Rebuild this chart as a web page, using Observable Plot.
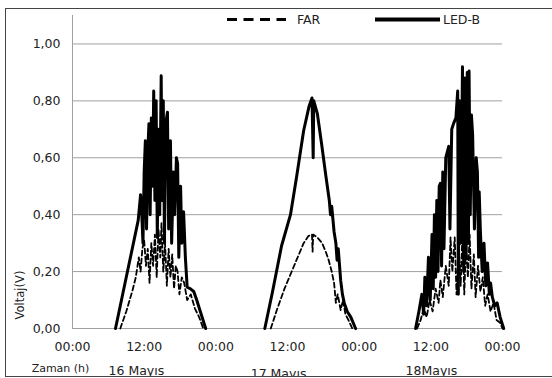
<!DOCTYPE html>
<html>
<head>
<meta charset="utf-8">
<script src="https://cdn.jsdelivr.net/npm/d3@7"></script>
<script src="https://cdn.jsdelivr.net/npm/@observablehq/plot@0.6"></script>
<style>
  body { margin: 0; background: #fff; font-family: "DejaVu Sans", sans-serif; }
  #wrap { position: relative; width: 552px; height: 378px; overflow: hidden; }
  #clip { position: absolute; left: 0; top: 0; width: 552px; height: 376px; overflow: hidden; }
  #frame { position: absolute; left: 5px; top: 8px; width: 600px; height: 367px;
           border-left: 1.5px solid #444; border-top: 1.5px solid #444; border-bottom: 1.5px solid #444; }
  #chart { position: absolute; left: 0; top: 0; }
  #legend { position: absolute; left: 0; top: 0; }
  #ytitle { position: absolute; left: 20px; top: 295px; font-size: 11.5px; color: #222;
            transform: translate(-50%, -50%) rotate(-90deg); white-space: nowrap; }
</style>
</head>
<body>
<div id="wrap">
  <div id="clip">
    <div id="chart"></div>
  </div>
  <div id="frame"></div>
  <svg id="legend" width="552" height="40">
    <line x1="227" x2="286" y1="19.5" y2="19.5" stroke="#000" stroke-width="3" stroke-dasharray="10,6.5"/>
    <text x="297" y="24" font-size="12.5" fill="#222" font-family="DejaVu Sans">FAR</text>
    <line x1="375" x2="440" y1="19.5" y2="19.5" stroke="#000" stroke-width="4"/>
    <text x="443" y="24" font-size="12.5" fill="#222" font-family="DejaVu Sans">LED-B</text>
  </svg>
  <div id="ytitle">Voltaj(V)</div>
</div>
<script>
// ---- data (hours since 16 May 00:00, volts) ----
const led16 = [[7.2,0],[8.0,0.08],[9.0,0.18],[10.0,0.28],[11.0,0.38],[11.4,0.47],[11.6,0.40],[11.8,0.30],[12.0,0.55],[12.2,0.66],[12.4,0.35],[12.6,0.62],[12.8,0.72],[13.0,0.40],[13.2,0.74],[13.4,0.50],[13.6,0.835],[13.8,0.45],[14.0,0.80],[14.2,0.32],[14.4,0.70],[14.6,0.40],[14.85,0.888],[15.0,0.45],[15.2,0.80],[15.4,0.30],[15.6,0.72],[15.9,0.76],[16.1,0.35],[16.4,0.66],[16.6,0.30],[16.9,0.55],[17.1,0.40],[17.4,0.60],[17.6,0.58],[17.8,0.25],[18.1,0.50],[18.3,0.30],[18.6,0.41],[18.9,0.25],[19.2,0.145],[19.7,0.14],[20.3,0.13],[20.8,0.10],[21.4,0.06],[22.3,0]];
const far16 = [[8.0,0],[9.0,0.06],[10.0,0.13],[10.6,0.18],[11.1,0.25],[11.4,0.20],[11.7,0.28],[12.0,0.31],[12.3,0.22],[12.6,0.28],[12.9,0.16],[13.2,0.30],[13.5,0.22],[13.8,0.33],[14.1,0.18],[14.4,0.35],[14.7,0.25],[14.9,0.37],[15.2,0.20],[15.5,0.30],[15.8,0.15],[16.1,0.28],[16.4,0.18],[16.7,0.26],[17.0,0.14],[17.3,0.22],[17.6,0.20],[17.9,0.12],[18.3,0.18],[18.7,0.16],[19.2,0.10],[19.8,0.12],[20.5,0.07],[21.2,0.04],[21.9,0]];
const led17 = [[32.2,0],[33.5,0.13],[35.0,0.29],[36.5,0.40],[37.5,0.53],[38.7,0.695],[39.6,0.78],[40.1,0.81],[40.3,0.60],[40.4,0.80],[41.0,0.755],[41.7,0.65],[42.4,0.54],[43.0,0.45],[43.2,0.40],[43.4,0.43],[43.8,0.34],[44.1,0.30],[44.3,0.24],[44.5,0.28],[44.9,0.17],[45.2,0.12],[45.5,0.09],[46.0,0.06],[46.6,0.04],[47.4,0]];
const far17 = [[33.2,0],[34.3,0.07],[35.5,0.14],[36.5,0.19],[37.5,0.24],[38.7,0.30],[39.5,0.325],[40.1,0.33],[40.2,0.27],[40.3,0.33],[41.0,0.32],[41.8,0.30],[42.4,0.27],[42.9,0.24],[43.4,0.20],[43.8,0.16],[44.1,0.09],[44.4,0.12],[44.9,0.065],[45.3,0.10],[45.7,0.05],[46.2,0.03],[46.85,0]];
const led18 = [[57.45,0],[58.0,0.06],[58.5,0.12],[58.8,0.05],[59.0,0.18],[59.3,0.08],[59.6,0.25],[59.9,0.10],[60.2,0.33],[60.4,0.14],[60.6,0.40],[60.8,0.18],[61.0,0.45],[61.2,0.20],[61.4,0.50],[61.6,0.51],[61.8,0.22],[62.0,0.55],[62.2,0.28],[62.5,0.60],[62.75,0.62],[63.0,0.64],[63.2,0.35],[63.5,0.70],[63.8,0.72],[64.2,0.74],[64.5,0.835],[64.6,0.12],[64.8,0.80],[65.0,0.30],[65.3,0.92],[65.5,0.20],[65.7,0.88],[65.9,0.25],[66.1,0.90],[66.3,0.30],[66.4,0.905],[66.6,0.40],[66.8,0.75],[67.0,0.68],[67.3,0.35],[67.6,0.60],[67.8,0.55],[68.0,0.25],[68.1,0.48],[68.3,0.34],[68.6,0.20],[68.9,0.30],[69.2,0.15],[69.5,0.23],[69.8,0.12],[70.0,0.16],[70.3,0.11],[70.7,0.08],[71.1,0.09],[71.6,0.04],[72.2,0]];
const far18 = [[57.7,0],[58.3,0.03],[58.8,0.07],[59.3,0.04],[59.8,0.10],[60.3,0.06],[60.8,0.14],[61.3,0.09],[61.6,0.17],[62.0,0.11],[62.5,0.22],[63.0,0.15],[63.3,0.32],[63.6,0.20],[64.0,0.32],[64.3,0.12],[64.7,0.28],[65.0,0.15],[65.3,0.34],[65.6,0.12],[65.9,0.30],[66.2,0.18],[66.5,0.33],[66.8,0.14],[67.2,0.26],[67.5,0.11],[67.9,0.22],[68.3,0.13],[68.7,0.18],[69.1,0.08],[69.5,0.12],[70.0,0.06],[70.5,0.09],[71.0,0.03],[71.6,0.02],[72.0,0]];

const xTicks = [0, 12, 24, 36, 48, 60, 72];
const xTickLabels = ["00:00", "12:00", "00:00", "12:00", "00:00", "12:00", "00:00"];
const yTicks = [0, 0.2, 0.4, 0.6, 0.8, 1.0];
const dayLabels = ["16 Mayıs", "17 Mayıs", "18Mayıs"];
const dayLabelX = [10.7, 34.5, 60.1];
const dayLabelLow = [false, true, false];

const toRows = (arr, series, day) => arr.map(([h, v]) => ({h, v, series, key: series + day}));
const ledRows = [...toRows(led16, "LED-B", 16), ...toRows(led17, "LED-B", 17), ...toRows(led18, "LED-B", 18)];
const farRows = [...toRows(far16, "FAR", 16), ...toRows(far17, "FAR", 17), ...toRows(far18, "FAR", 18)];
const days = dayLabels.map((t, i) => ({t, x: dayLabelX[i], low: dayLabelLow[i]}));

const chart = Plot.plot({
  width: 552,
  height: 378,
  marginLeft: 72,
  marginRight: 50,
  marginTop: 15,
  marginBottom: 50,
  style: {fontFamily: "DejaVu Sans", fontSize: "12.5px", color: "#222", background: "transparent"},
  x: {domain: [0, 72]},
  y: {domain: [0, 1.1]},
  marks: [
    Plot.ruleY(yTicks, {stroke: "#a0a0a0", strokeWidth: 1}),
    Plot.ruleX([0], {stroke: "#a0a0a0", strokeWidth: 1}),
    Plot.axisX(xTicks, {tickSize: 0, tickPadding: 14, tickFormat: (d, i) => xTickLabels[i], label: null}),
    Plot.axisY(yTicks, {tickSize: 0, tickPadding: 12, tickFormat: d => d.toFixed(2).replace(".", ","), label: null}),
    Plot.line(farRows, {x: "h", y: "v", z: "key", stroke: "#000", strokeWidth: 1.8, strokeDasharray: "5,3", curve: "linear"}),
    Plot.line(ledRows, {x: "h", y: "v", z: "key", stroke: "#000", strokeWidth: 3, strokeLinejoin: "round", curve: "linear"}),
    Plot.text(days.filter(d => !d.low), {x: "x", y: () => 0, text: "t", dy: 42, fill: "#222"}),
    Plot.text(days.filter(d => d.low), {x: "x", y: () => 0, text: "t", dy: 45, fill: "#222"}),
    Plot.text(["Zaman (h)"], {x: () => 0, y: () => 0, text: d => d, dx: -12, dy: 40, fontSize: 11, fill: "#222"})
  ]
});
document.getElementById("chart").append(chart);
</script>
</body>
</html>
